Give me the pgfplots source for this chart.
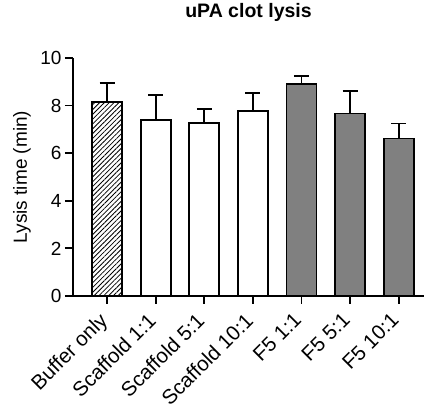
\documentclass[border=0pt]{standalone}
\usepackage{fontspec}
\setmainfont{Liberation Sans}
\usepackage{pgfplots}
\pgfplotsset{compat=1.18}
\usetikzlibrary{patterns.meta}
\definecolor{barGray}{RGB}{128,128,128}

\begin{document}
\begin{tikzpicture}
    \begin{axis}[
        at={(0,0)}, anchor=south west,
        scale only axis,
        width=351pt, height=238pt,
        xmin=-0.7, xmax=6.52,
        ymin=0, ymax=10,
        ytick={0,2,4,6,8,10},
        xtick={0,1,2,3,4,5,6},
        xticklabels={Buffer only, Scaffold 1:1, Scaffold 5:1, Scaffold 10:1, F5 1:1, F5 5:1, F5 10:1},
        axis x line=bottom, axis y line=left,
        axis line style={line width=1.8pt, -},
        tick style={line width=1.8pt, black},
        tick align=outside,
        major tick length=8pt,
        /pgf/number format/assume math mode=true,
        ticklabel style={font=\fontsize{19}{19}\selectfont},
        x tick label style={font=\fontsize{20.5}{20.5}\selectfont, xshift=-9pt, yshift=-6pt, rotate=45, anchor=north east, inner sep=1pt},
        ylabel={Lysis time (min)},
        ylabel style={font=\fontsize{19}{19}\selectfont, at={(axis description cs:0,0.5)}, anchor=center, yshift=51pt},
        title={\bfseries uPA clot lysis},
        title style={font=\fontsize{19.5}{19.5}\selectfont, at={(0.5,1)}, anchor=base, yshift=34pt},
        ybar, bar width=30pt, bar shift=0pt,
        every axis plot/.append style={line width=1.8pt},
        error bars/y dir=plus, error bars/y explicit,
        error bars/error bar style={line width=1.8pt, black},
        error bars/error mark options={rotate=90, mark size=7.5pt, line width=1.8pt, black},
    ]
        % buffer only
        \addplot[draw=black, pattern={Lines[angle=45,distance=3.4pt,line width=0.8pt]}]
            coordinates {(0, 8.16) +- (0, 0.78)};
        % scaffold
        \addplot[draw=black, fill=white]
            coordinates {(1, 7.39) +- (0, 1.06) (2, 7.28) +- (0, 0.58) (3, 7.77) +- (0, 0.75)};
        % F5
        \addplot[draw=black, fill=barGray]
            coordinates {(4, 8.91) +- (0, 0.33) (5, 7.67) +- (0, 0.96) (6, 6.62) +- (0, 0.63)};
    \end{axis}
    \path[use as bounding box] (-73pt,-113pt) rectangle (353pt,296pt);
\end{tikzpicture}
\end{document}
